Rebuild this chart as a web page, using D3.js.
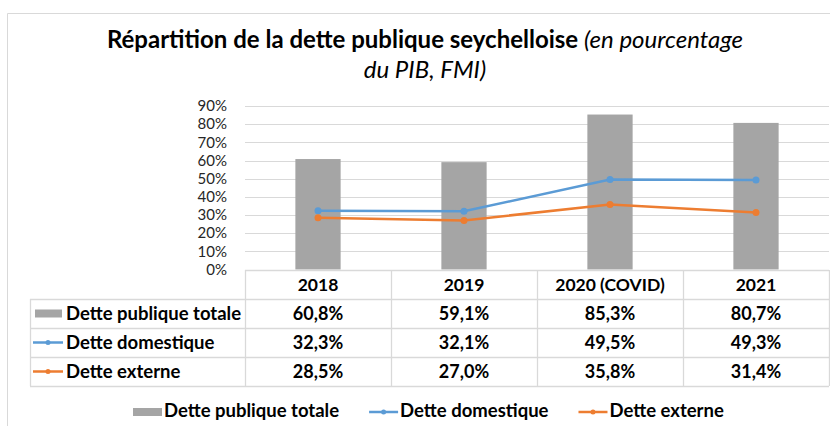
<!DOCTYPE html>
<html>
<head>
<meta charset="utf-8">
<script src="https://cdn.jsdelivr.net/npm/d3@7"></script>
<style>
  html, body { margin: 0; padding: 0; background: #fff; }
  svg { display: block; font-family: Lato, "Open Sans", sans-serif; }
</style>
</head>
<body>
<svg id="chart" width="830" height="426"></svg>
<script>
// data
var years = ['2018', '2019', '2020 (COVID)', '2021'];
var detteTotale = [60.8, 59.1, 85.3, 80.7];
var detteDomestique = [32.3, 32.1, 49.5, 49.3];
var detteExterne = [28.5, 27.0, 35.8, 31.4];
var seriesNames = ['Dette publique totale', 'Dette domestique', 'Dette externe'];
var yTicks = [0, 10, 20, 30, 40, 50, 60, 70, 80, 90];

var grey = '#a5a5a5', blue = '#5b9bd5', orange = '#ed7d31', gridColor = '#d9d9d9';

var svg = d3.select('#chart');

// frame around the chart (only top and left edges are visible)
svg.append('path')
    .attr('d', 'M7.5,426 V13.5 H830')
    .attr('fill', 'none')
    .attr('stroke', gridColor);

// title
var title = svg.append('text')
    .attr('x', 425)
    .attr('y', 48)
    .attr('text-anchor', 'middle')
    .style('font-size', '24px')
    .attr('fill', '#000');
title.append('tspan').style('font-weight', 'bold').text('Répartition de la dette publique seychelloise ');
title.append('tspan').style('font-style', 'italic').text('(en pourcentage');
svg.append('text')
    .attr('x', 425)
    .attr('y', 78)
    .attr('text-anchor', 'middle')
    .style('font-size', '24px')
    .style('font-style', 'italic')
    .text('du PIB, FMI)');

// scales
var x = d3.scaleBand().domain(years).range([245, 829]);
var y = d3.scaleLinear().domain([0, 90]).range([269.5, 106]);
var barW = x.bandwidth() * 0.31;

// gridlines
svg.append('g').selectAll('line')
    .data(yTicks.filter(function (d) { return d > 0; }))
    .enter().append('line')
    .attr('x1', 245).attr('x2', 829)
    .attr('y1', function (d) { return Math.round(y(d)) + 0.5; })
    .attr('y2', function (d) { return Math.round(y(d)) + 0.5; })
    .attr('stroke', gridColor);

// y axis labels
var yAxis = d3.axisLeft(y)
    .tickValues(yTicks)
    .tickFormat(function (d) { return d + '%'; })
    .tickSize(0)
    .tickPadding(0);
var yg = svg.append('g')
    .attr('transform', 'translate(227,0)')
    .call(yAxis);
yg.select('.domain').remove();
yg.selectAll('text')
    .style('font-family', 'Lato, sans-serif')
    .style('font-size', '15px')
    .attr('fill', '#262626');

// bars
svg.append('g').selectAll('rect')
    .data(detteTotale)
    .enter().append('rect')
    .attr('x', function (d, i) { return x(years[i]) + (x.bandwidth() - barW) / 2; })
    .attr('width', barW)
    .attr('y', function (d) { return y(d); })
    .attr('height', function (d) { return y(0) - y(d); })
    .attr('fill', grey);

// lines with markers
var line = d3.line()
    .x(function (d, i) { return x(years[i]) + x.bandwidth() / 2; })
    .y(function (d) { return y(d); });

[[detteDomestique, blue], [detteExterne, orange]].forEach(function (s) {
    svg.append('path')
        .datum(s[0])
        .attr('d', line)
        .attr('fill', 'none')
        .attr('stroke', s[1])
        .attr('stroke-width', 2.5);
    svg.append('g').selectAll('circle')
        .data(s[0])
        .enter().append('circle')
        .attr('cx', function (d, i) { return x(years[i]) + x.bandwidth() / 2; })
        .attr('cy', function (d) { return y(d); })
        .attr('r', 3.5)
        .attr('fill', s[1]);
});

// data table
var rowTops = [270, 299, 328, 357, 386];
var tableLeft = 30;
var table = svg.append('g').attr('stroke', gridColor).attr('stroke-width', 1.3);
rowTops.forEach(function (ty, i) {
    table.append('line')
        .attr('x1', i === 0 ? 245 : tableLeft).attr('x2', 829)
        .attr('y1', ty + 0.5).attr('y2', ty + 0.5);
});
years.concat(['end']).forEach(function (yr, i) {
    var vx = i < years.length ? x(yr) : x.range()[1];
    table.append('line')
        .attr('x1', vx + 0.5).attr('x2', vx + 0.5)
        .attr('y1', 270).attr('y2', 386);
});
table.append('line')
    .attr('x1', tableLeft + 0.5).attr('x2', tableLeft + 0.5)
    .attr('y1', 299).attr('y2', 386);

function pct(v) { return v.toFixed(1).replace('.', ',') + '%'; }

// header row
svg.append('g').selectAll('text')
    .data(years)
    .enter().append('text')
    .attr('x', function (d) { return x(d) + x.bandwidth() / 2; })
    .attr('y', 291)
    .attr('text-anchor', 'middle')
    .style('font-size', '17.5px')
    .style('font-weight', 'bold')
    .text(function (d) { return d; });

var rows = [detteTotale, detteDomestique, detteExterne];
var rowColors = [grey, blue, orange];
rows.forEach(function (vals, r) {
    var top = rowTops[r + 1];
    var mid = top + 14.5;
    svg.append('g').selectAll('text')
        .data(vals)
        .enter().append('text')
        .attr('x', function (d, i) { return x(years[i]) + x.bandwidth() / 2; })
        .attr('y', top + 21)
        .attr('text-anchor', 'middle')
        .style('font-size', '18px')
        .style('font-weight', 'bold')
        .text(function (d) { return pct(d); });
    // legend key in the table
    if (r === 0) {
        svg.append('rect')
            .attr('x', 35).attr('y', mid - 4).attr('width', 27).attr('height', 8)
            .attr('fill', grey);
    } else {
        svg.append('line')
            .attr('x1', 33).attr('x2', 63).attr('y1', mid).attr('y2', mid)
            .attr('stroke', rowColors[r]).attr('stroke-width', 2.5);
        svg.append('circle')
            .attr('cx', 48).attr('cy', mid).attr('r', 2.5)
            .attr('fill', rowColors[r]);
    }
    svg.append('text')
        .attr('x', 66)
        .attr('y', top + 21)
        .style('font-size', '18.5px')
        .style('font-weight', 'bold')
        .text(seriesNames[r]);
});

// bottom legend
var legend = svg.append('g');
var lx = 133, ly = 412;
seriesNames.forEach(function (name, i) {
    if (i === 0) {
        legend.append('rect')
            .attr('x', lx).attr('y', ly - 4).attr('width', 29).attr('height', 8)
            .attr('fill', grey);
    } else {
        legend.append('line')
            .attr('x1', lx).attr('x2', lx + 29).attr('y1', ly).attr('y2', ly)
            .attr('stroke', rowColors[i]).attr('stroke-width', 2.5);
        legend.append('circle')
            .attr('cx', lx + 14.5).attr('cy', ly).attr('r', 2.5)
            .attr('fill', rowColors[i]);
    }
    var t = legend.append('text')
        .attr('x', lx + 31)
        .attr('y', ly + 5)
        .style('font-size', '18.5px')
        .style('font-weight', 'bold')
        .text(name);
    lx = lx + 31 + t.node().getComputedTextLength() + 30;
});
</script>
</body>
</html>
